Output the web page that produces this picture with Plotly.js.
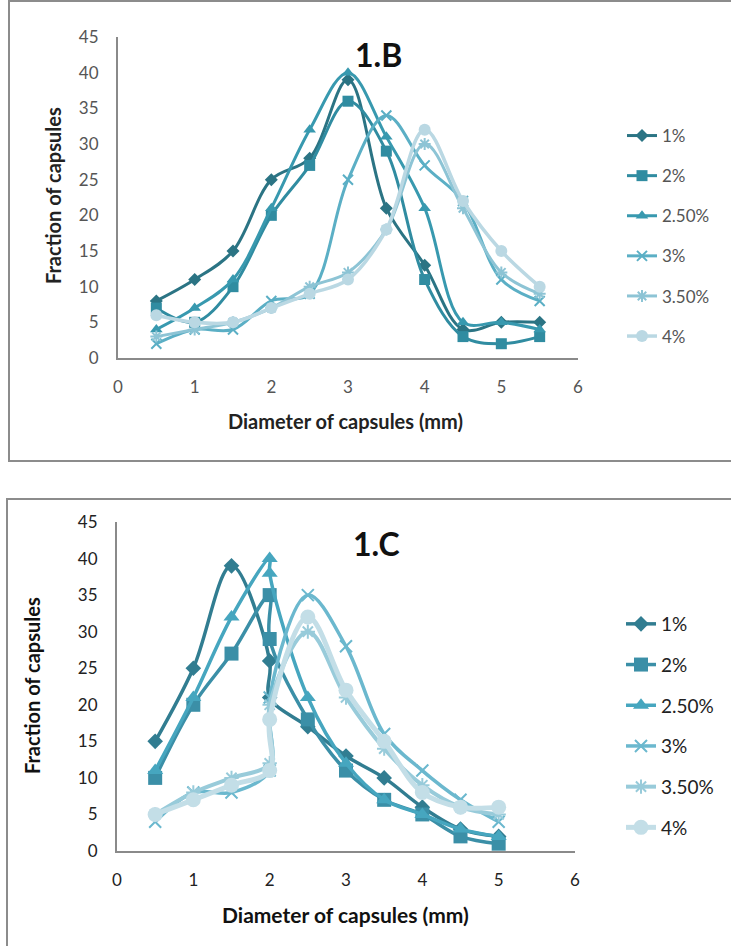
<!DOCTYPE html>
<html><head><meta charset="utf-8">
<script src="https://cdn.plot.ly/plotly-3.0.1.min.js"></script>
<style>html,body{margin:0;padding:0;background:#fff}#chart{width:731px;height:946px}</style>
</head><body><div id="chart"></div>
<script>
// ---- Data ----
const seriesNames = ['1%','2%','2.50%','3%','3.50%','4%'];
// Chart 1.B
const xB = [0.5,1,1.5,2,2.5,3,3.5,4,4.5,5,5.5];
const B_1   = [8,11,15,25,28,39,21,13,4,5,5];
const B_2   = [7,5,10,20,27,36,29,11,3,2,3];
const B_25  = [4,7,11,21,32,40,31,21,5,5,4];
const B_3   = [2,4,4,8,9,25,34,27,22,11,8];
const B_35  = [3,4,5,7,10,12,18,30,21,12,9];
const B_4   = [6,5,5,7,9,11,18,32,22,15,10];
// Chart 1.C
const xC = [0.5,1,1.5,2,2,2.5,3,3.5,4,4.5,5];
const C_1   = [15,25,39,26,21,17,13,10,6,3,2];
const C_2   = [10,20,27,35,29,18,11,7,5,2,1];
const C_25  = [11,21,32,40,38,21,12,7,5,3,2];
const C_3   = [4,8,8,11,21,35,28,16,11,7,4];
const C_35  = [5,8,10,12,20,30,21,14,9,6,5];
const C_4   = [5,7,9,11,18,32,22,15,8,6,6];
const xTicks = [0,1,2,3,4,5,6];
const yTicks = [0,5,10,15,20,25,30,35,40,45];

// ---- Styles ----
const colorsB = ['#2B7484','#308CA1','#3899AF','#5BAFC5','#8DC4D5','#BAD8E3'];
const colorsC = ['#317D91','#3B8FA7','#46A6BF','#6BB8CE','#98CBDA','#C3DEE7'];
const symbols = ['diamond','square','triangle-up','x-thin-open','asterisk-open','circle'];
const sizesB = [10,11,11,10,10,12];
const sizesC = [12,14,14,12,12,15];
const widthsB = [3,3,3,3,3,3.5];
const widthsC = [3.5,3.5,3.5,3.5,4,5];
const FONT = 'Lato, "Open Sans", sans-serif';

const dataB = [B_1,B_2,B_25,B_3,B_35,B_4];
const dataC = [C_1,C_2,C_25,C_3,C_35,C_4];

function mk(x, ys, colors, sizes, widths, xa, ya, leg, grpPrefix){
  return ys.map((y,i)=>{
    const thin = symbols[i].indexOf('open')>=0;
    return {
      type:'scatter', mode:'lines+markers', x:x, y:y, name:seriesNames[i],
      xaxis:xa, yaxis:ya, legend:leg, legendgroup:grpPrefix+i,
      line:{color:colors[i], width:widths[i], shape:'spline', smoothing:1},
      marker:{symbol:symbols[i], size:sizes[i], color:colors[i],
        line:{color:colors[i], width: thin?2:0}},
      cliponaxis:false
    };
  });
}
const traces = mk(xB,dataB,colorsB,sizesB,widthsB,'x','y','legend','b')
  .concat(mk(xC,dataC,colorsC,sizesC,widthsC,'x2','y2','legend2','c'));

const W=731,H=946;
const px = v=>v/W, py = v=>1-v/H;

function xaxis(dom, anchor, fs, col){
  return {domain:dom, anchor:anchor, range:[0,6], tickvals:xTicks, ticktext:xTicks.map(String),
    showgrid:false, zeroline:false, showline:true, linecolor:'#8a8a8a', linewidth:2,
    ticks:'', ticklabelstandoff:13, tickfont:{family:FONT, size:fs, color:col}, fixedrange:true};
}
function yaxis(dom, anchor, fs, col){
  return {domain:dom, anchor:anchor, range:[0,45], tickvals:yTicks, ticktext:yTicks.map(String),
    showgrid:false, zeroline:false, showline:true, linecolor:'#8a8a8a', linewidth:2,
    ticks:'', ticklabelstandoff:14, tickfont:{family:FONT, size:fs, color:col}, fixedrange:true};
}
function ann(text, x, y, size, color, angle){
  const a = {text:text, xref:'paper', yref:'paper', x:px(x), y:py(y), xanchor:'center', yanchor:'middle',
    showarrow:false, font:{family:FONT,size:size,color:color}};
  if(angle) a.textangle = angle;
  return a;
}

const layout = {
  width:W, height:H, margin:{l:0,r:0,t:0,b:0}, paper_bgcolor:'#fff', plot_bgcolor:'rgba(0,0,0,0)',
  showlegend:true,
  xaxis: xaxis([px(118),px(578)],'y',17,'#555'),
  yaxis: yaxis([py(358),py(37)],'x',17,'#555'),
  xaxis2: xaxis([px(117),px(575)],'y2',17,'#222'),
  yaxis2: yaxis([py(851),py(522)],'x2',17,'#222'),
  legend:{x:px(622), y:py(118), xanchor:'left', yanchor:'top', traceorder:'grouped', tracegroupgap:15,
    font:{family:FONT,size:17,color:'#555'}, bgcolor:'rgba(0,0,0,0)', itemclick:false, itemdoubleclick:false},
  legend2:{x:px(621), y:py(605), xanchor:'left', yanchor:'top', traceorder:'grouped', tracegroupgap:13,
    font:{family:FONT,size:19,color:'#222'}, bgcolor:'rgba(0,0,0,0)', itemclick:false, itemdoubleclick:false},
  shapes:[
    {type:'rect', xref:'paper', yref:'paper', x0:px(9), x1:px(735), y0:py(461), y1:py(1), line:{color:'#8c8c8c', width:2}},
    {type:'rect', xref:'paper', yref:'paper', x0:px(7), x1:px(735), y0:py(950), y1:py(499), line:{color:'#8c8c8c', width:2}}
  ],
  annotations:[
    ann('<b>1.B</b>', 378, 55, 32, '#111'),
    ann('<b>1.C</b>', 376, 543, 32, '#111'),
    ann('<b>Diameter of capsules (mm)</b>', 345, 421, 20, '#222'),
    ann('<b>Fraction of capsules</b>', 53, 196, 20, '#222', -90),
    ann('<b>Diameter of capsules (mm)</b>', 345, 914, 21, '#111'),
    ann('<b>Fraction of capsules</b>', 32, 686, 20, '#111', -90)
  ]
};
Plotly.newPlot('chart', traces, layout, {displayModeBar:false, staticPlot:true});
</script></body></html>
